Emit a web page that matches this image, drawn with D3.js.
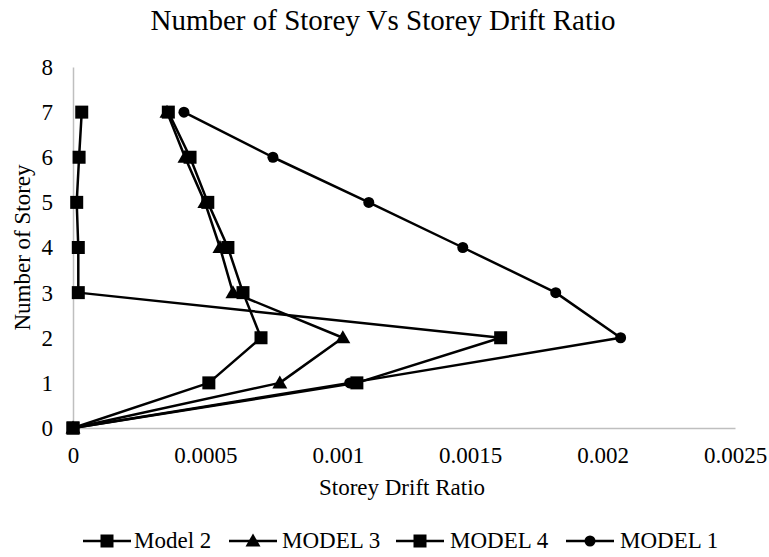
<!DOCTYPE html>
<html>
<head>
<meta charset="utf-8">
<script src="https://cdn.jsdelivr.net/npm/d3@7"></script>
<style>
  html, body { margin: 0; padding: 0; background: #fff; }
  svg { display: block; }
  svg text { font-family: "Liberation Serif", "Times New Roman", serif; fill: #000; }
</style>
</head>
<body>
<svg id="chart" width="769" height="557"></svg>
<script>
// Storey levels (y) and drift ratios (x) per model
const storeys = [0, 1, 2, 3, 4, 5, 6, 7];
const model2 = [0, 0.001072, 0.001615, 0.000020, 0.000020, 0.000014, 0.000023, 0.000033];
const model3 = [0, 0.000781, 0.001019, 0.000604, 0.000555, 0.000498, 0.000423, 0.000355];
const model4 = [0, 0.000513, 0.000710, 0.000642, 0.000585, 0.000509, 0.000442, 0.000360];
const model1 = [0, 0.001045, 0.002068, 0.001823, 0.001472, 0.001117, 0.000755, 0.000419];

const seriesNames = ["Model 2", "MODEL 3", "MODEL 4", "MODEL 1"];
const seriesValues = [model2, model3, model4, model1];
const seriesMarkers = ["square", "triangle", "square", "circle"];

const xTicks = [0, 0.0005, 0.001, 0.0015, 0.002, 0.0025];
const xTickLabels = ["0", "0.0005", "0.001", "0.0015", "0.002", "0.0025"];
const yTicks = [0, 1, 2, 3, 4, 5, 6, 7, 8];

const FONT = '"Liberation Serif", "Times New Roman", serif';
const svg = d3.select("#chart");
const plot = { left: 73, right: 735, top: 67, bottom: 428 };

const x = d3.scaleLinear().domain([0, 0.0025]).range([plot.left, plot.right]);
const y = d3.scaleLinear().domain([0, 8]).range([plot.bottom, plot.top]);

// Title
svg.append("text")
  .attr("x", 383).attr("y", 30)
  .attr("text-anchor", "middle")
  .style("font-size", "29px")
  .text("Number of Storey Vs Storey Drift Ratio");

// Axes
const xAxis = svg.append("g")
  .attr("transform", `translate(0,${plot.bottom})`)
  .call(d3.axisBottom(x).tickValues(xTicks).tickFormat((d, i) => xTickLabels[i]).tickSize(0).tickPadding(19));
xAxis.attr("font-family", FONT);
xAxis.select(".domain").attr("stroke", "#bfbfbf").attr("stroke-width", 1.5);
xAxis.selectAll("text").style("font-size", "23px").style("font-family", FONT);

const yAxis = svg.append("g")
  .attr("transform", `translate(${plot.left},0)`)
  .call(d3.axisLeft(y).tickValues(yTicks).tickFormat(d3.format("d")).tickSize(0).tickPadding(20));
yAxis.attr("font-family", FONT);
yAxis.select(".domain").attr("stroke", "#bfbfbf").attr("stroke-width", 1.5);
yAxis.selectAll("text").style("font-size", "23px").style("font-family", FONT);

// Axis titles
svg.append("text")
  .attr("x", 402).attr("y", 495)
  .attr("text-anchor", "middle")
  .style("font-size", "23px")
  .text("Storey Drift Ratio");

svg.append("text")
  .attr("transform", `translate(30,${(plot.top + plot.bottom) / 2}) rotate(-90)`)
  .attr("text-anchor", "middle")
  .style("font-size", "23px")
  .text("Number of Storey");

// Marker drawing
function drawMarker(g, type, cx, cy) {
  if (type === "square") {
    g.append("rect").attr("x", cx - 6.5).attr("y", cy - 6.5).attr("width", 13).attr("height", 13).attr("fill", "#000");
  } else if (type === "triangle") {
    g.append("path").attr("d", `M${cx},${cy - 7.5}L${cx + 7.5},${cy + 5.5}L${cx - 7.5},${cy + 5.5}Z`).attr("fill", "#000");
  } else {
    g.append("circle").attr("cx", cx).attr("cy", cy).attr("r", 5.5).attr("fill", "#000");
  }
}

const line = d3.line().x(d => x(d[0])).y(d => y(d[1]));

seriesValues.forEach((vals, i) => {
  const pts = vals.map((v, j) => [v, storeys[j]]);
  const g = svg.append("g");
  g.append("path").datum(pts)
    .attr("d", line)
    .attr("fill", "none")
    .attr("stroke", "#000")
    .attr("stroke-width", 2.5)
    .attr("stroke-linejoin", "round");
  pts.forEach(p => drawMarker(g, seriesMarkers[i], x(p[0]), y(p[1])));
});

// Legend
const legendItems = [
  { x: 83, textX: 134 },
  { x: 229, textX: 282 },
  { x: 396, textX: 450 },
  { x: 566, textX: 620 }
];
const legendY = 541;
seriesNames.forEach((name, i) => {
  const li = legendItems[i];
  const g = svg.append("g");
  g.append("line")
    .attr("x1", li.x).attr("x2", li.x + 48)
    .attr("y1", legendY).attr("y2", legendY)
    .attr("stroke", "#000").attr("stroke-width", 2.5);
  drawMarker(g, seriesMarkers[i], li.x + 24, legendY);
  g.append("text")
    .attr("x", li.textX).attr("y", legendY + 7)
    .style("font-size", "23px")
    .text(name);
});
</script>
</body>
</html>
